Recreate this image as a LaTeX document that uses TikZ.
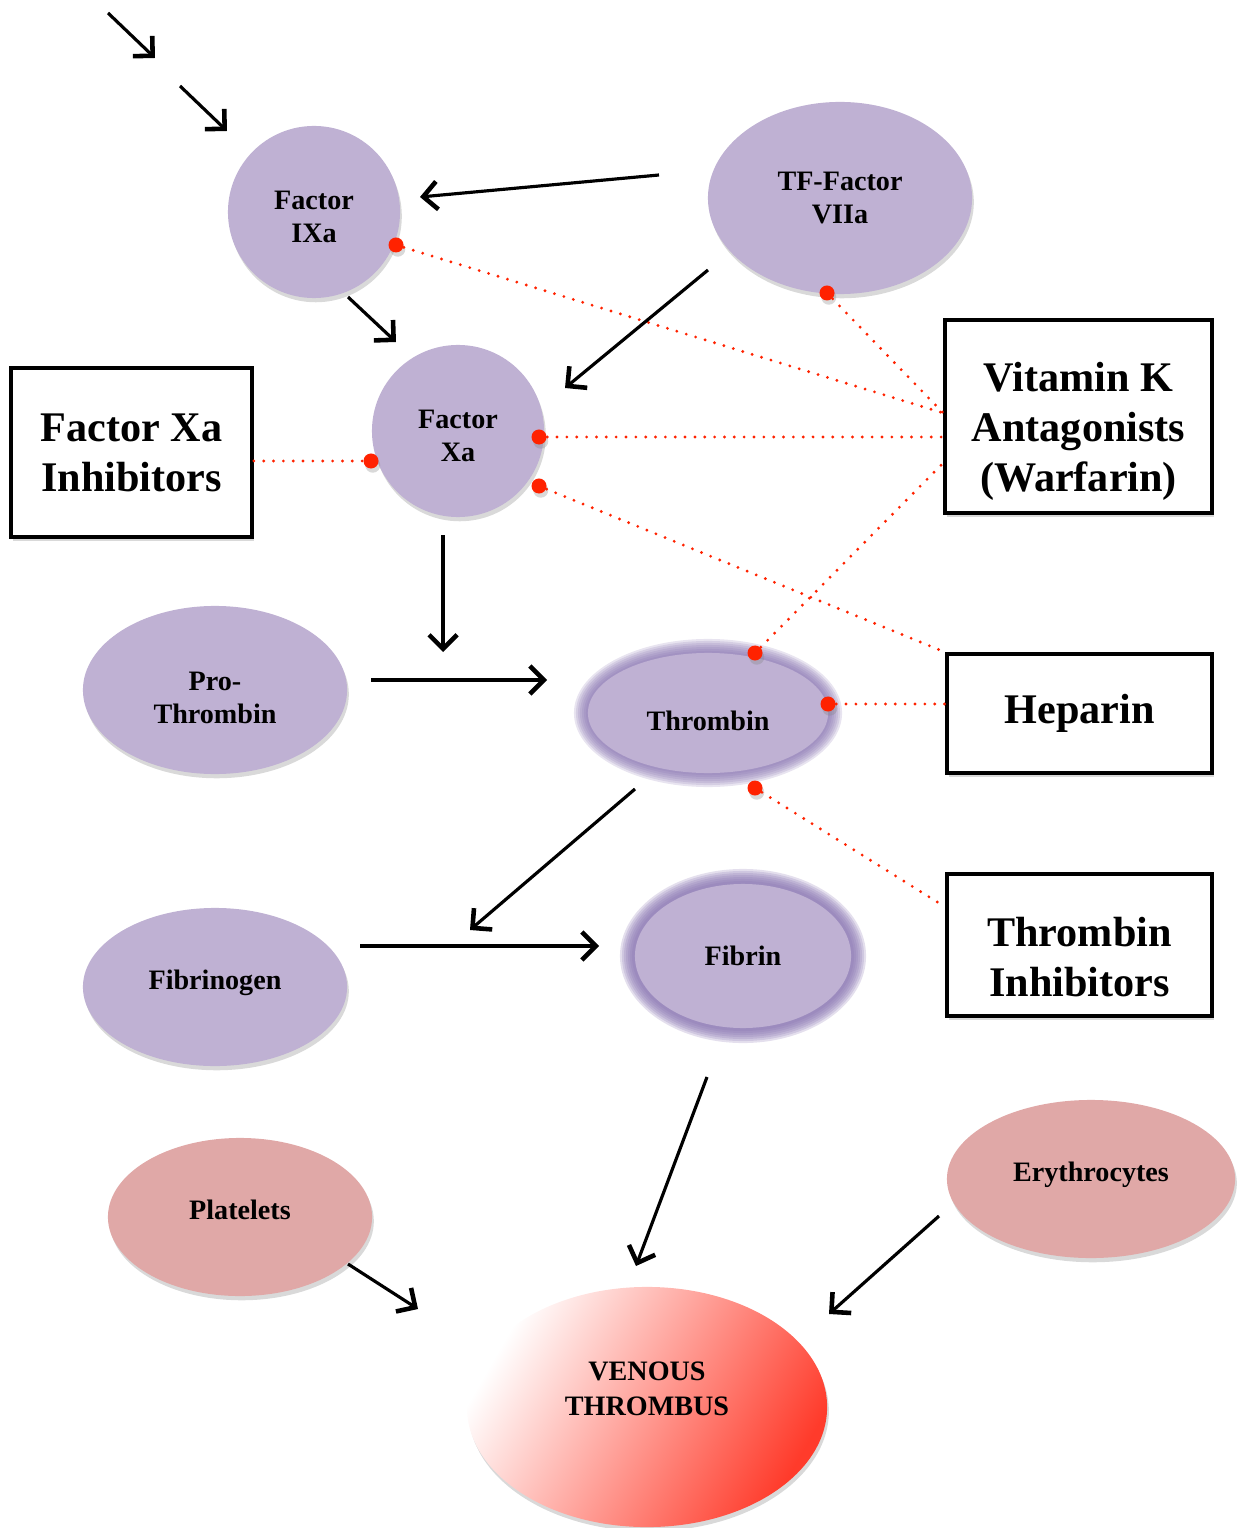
\documentclass[tikz,border=0pt]{standalone}
\usepackage{fontspec}
\setmainfont{Liberation Serif}
\usepackage{xcolor}
\usepackage{tikz}
\usetikzlibrary{arrows.meta,positioning,calc,shapes.geometric,shadows}

\definecolor{factorfill}{HTML}{BFB1D3}
\definecolor{glowfill}{HTML}{8A76B2}
\definecolor{cellfill}{HTML}{E0A8A7}
\definecolor{hitred}{HTML}{FF2200}
\definecolor{clotred}{HTML}{FF3B2B}

\begin{document}
\begin{tikzpicture}[x=0.01cm,y=-0.01cm,>={Straight Barb[length=1.4mm,width=2.8mm,line width=1.3pt]},
  font=\bfseries\fontsize{8}{9.2}\selectfont,
  soft/.style={drop shadow={opacity=0.3,shadow xshift=0.5pt,shadow yshift=-1.2pt}},
  factor/.style={fill=factorfill,inner sep=0pt,align=center},
  cell/.style={ellipse,fill=cellfill,inner sep=0pt,align=center,soft},
  drug/.style={rectangle,draw,line width=1pt,fill=white,align=center,soft},
  bigtext/.style={align=center,font=\bfseries\fontsize{12}{14.2}\selectfont},
  hit/.style={circle,fill=hitred,inner sep=0pt,minimum size=0.15cm,soft},
  block/.style={hitred,line width=0.9pt,dash pattern=on 0pt off 2.8pt,line cap=round},
  arr/.style={->,line width=0.9pt}]
  \useasboundingbox (0,0) rectangle (1240,1528);

  \node[factor,soft,circle,minimum size=1.72cm] (ixa) at (314,212) {};
  \node[align=center] (ixa-txt) at ($(ixa)+(0,5)$) {Factor\\IXa};
  \node[factor,soft,circle,minimum size=1.72cm] (xa) at (458,431) {};
  \node[align=center] (xa-txt) at ($(xa)+(0,5)$) {Factor\\Xa};
  \node[factor,soft,ellipse,minimum width=2.64cm,minimum height=1.92cm] (tf) at (840,198) {TF-Factor\\VIIa};
  \node[factor,soft,ellipse,minimum width=2.64cm,minimum height=1.68cm] (pro) at (215,690) {};
  \node[align=center] (pro-txt) at ($(pro)+(0,8)$) {Pro-\\Thrombin};
  \foreach \d in {0,0.02,...,0.14}
    \fill[glowfill,opacity=0.2] (708,713) ellipse [x radius=1.34cm-\d cm,y radius=0.74cm-\d cm];
  \node[factor,ellipse,minimum width=2.4cm,minimum height=1.2cm] (thr) at (708,713) {};
  \node (thr-txt) at ($(thr)+(0,8)$) {Thrombin};
  \foreach \d in {0,0.02,...,0.14}
    \fill[glowfill,opacity=0.23] (743,956) ellipse [x radius=1.23cm-\d cm,y radius=0.87cm-\d cm];
  \node[factor,ellipse,minimum width=2.16cm,minimum height=1.44cm] (fib) at (743,956) {Fibrin};
  \node[factor,soft,ellipse,minimum width=2.64cm,minimum height=1.58cm] (fbg) at (215,987) {};
  \node (fbg-txt) at ($(fbg)+(0,-4)$) {Fibrinogen};
  \node[cell,minimum width=2.64cm,minimum height=1.58cm] (plt) at (240,1217) {};
  \node (plt-txt) at ($(plt)+(0,-7)$) {Platelets};
  \node[cell,minimum width=2.88cm,minimum height=1.58cm] (ery) at (1091,1179) {};
  \node (ery-txt) at ($(ery)+(0,-4)$) {Erythrocytes};
  \node[ellipse,soft,inner sep=0pt,top color=white,bottom color=clotred,shading angle=60,
    minimum width=3.6cm,minimum height=2.4cm] (vt) at (647,1407) {};
  \node[align=center,font=\bfseries\fontsize{8}{10}\selectfont] (vt-txt) at ($(vt)+(0,-18)$) {VENOUS\\THROMBUS};

  \node[drug,bigtext,minimum width=2.41cm,minimum height=1.69cm] (fxi) at (131.5,452.5) {Factor Xa\\Inhibitors};
  \node[drug,minimum width=2.67cm,minimum height=1.93cm] (vka) at (1078.5,416.5) {};
  \node[bigtext] (vka-txt) at ($(vka)+(0,15)$) {Vitamin K\\Antagonists\\(Warfarin)};
  \node[drug,bigtext,minimum width=2.65cm,minimum height=1.19cm] (hep) at (1079.5,713.5) {Heparin};
  \node[drug,minimum width=2.65cm,minimum height=1.42cm] (thi) at (1079.5,945) {};
  \node[bigtext] (thi-txt) at ($(thi)+(0,12)$) {Thrombin\\Inhibitors};

  \node[hit] (ixa-hit) at (396,245) {};
  \node[hit] (tf-hit) at (827,293) {};
  \node[hit] (xa-hit1) at (539,437) {};
  \node[hit] (xa-hit2) at (539,486) {};
  \node[hit] (xa-hit3) at (371,461) {};
  \node[hit] (thr-hit1) at (755,653) {};
  \node[hit] (thr-hit2) at (828,704) {};
  \node[hit] (thr-hit3) at (755,788) {};

  \draw[block] (ixa-hit) -- ($(vka.west)+(0,-3.5)$);
  \draw[block] (tf-hit) -- ($(vka.west)+(0,-3.5)$);
  \draw[block] (xa-hit1) -- (vka.west |- xa-hit1);
  \draw[block] (thr-hit1) -- ($(vka.west)+(0,46.5)$);
  \draw[block] (xa-hit2) -- (hep.north west);
  \draw[block] (thr-hit2) -- (hep.west |- thr-hit2);
  \draw[block] (thr-hit3) -- ($(thi.west)+(0,-38)$);
  \draw[block] (fxi.east |- xa-hit3) -- (xa-hit3);

  \coordinate (up1-s) at (108,13);   \coordinate (up1-e) at (155,58);
  \coordinate (up2-s) at (180,86);   \coordinate (up2-e) at (227,131);
  \coordinate (tf-s1) at (659,175);  \coordinate (ixa-e) at (420,197);
  \coordinate (tf-s2) at (708,270);  \coordinate (xa-e1) at (565,388);
  \coordinate (ixa-s) at (348,297);  \coordinate (xa-e2) at (396,342);
  \coordinate (xa-s) at (443,535);   \coordinate (xa-t) at (443,652);
  \coordinate (pro-s) at (371,680);  \coordinate (thr-e) at (547,680);
  \coordinate (thr-s) at (635,789);  \coordinate (thr-t) at (470,930);
  \coordinate (fbg-s) at (360,946);  \coordinate (fib-e) at (599,946);
  \coordinate (fib-s) at (707,1077); \coordinate (vt-e1) at (636,1266);
  \coordinate (plt-s) at (348,1264); \coordinate (vt-e2) at (418,1309);
  \coordinate (ery-s) at (939,1216); \coordinate (vt-e3) at (829,1314);

  \draw[arr] (up1-s) -- (up1-e);
  \draw[arr] (up2-s) -- (up2-e);
  \draw[arr] (tf-s1) -- (ixa-e);
  \draw[arr] (tf-s2) -- (xa-e1);
  \draw[arr] (ixa-s) -- (xa-e2);
  \draw[arr] (xa-s) -- (xa-t);
  \draw[arr] (pro-s) -- (thr-e);
  \draw[arr] (thr-s) -- (thr-t);
  \draw[arr] (fbg-s) -- (fib-e);
  \draw[arr] (fib-s) -- (vt-e1);
  \draw[arr] (plt-s) -- (vt-e2);
  \draw[arr] (ery-s) -- (vt-e3);
\end{tikzpicture}
\end{document}
